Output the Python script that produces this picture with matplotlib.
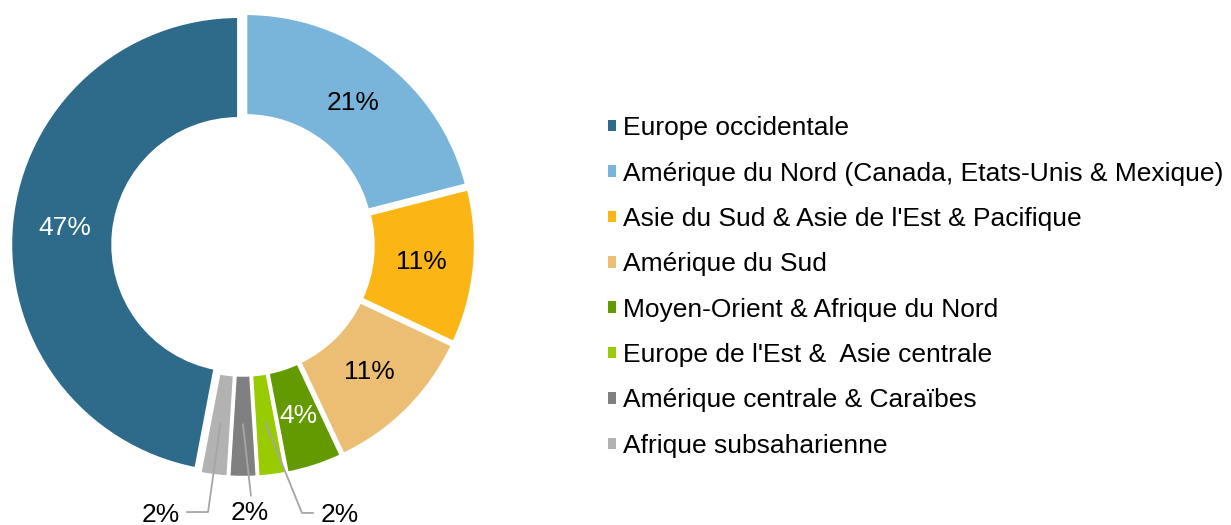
import matplotlib.pyplot as plt
import numpy as np
from matplotlib.patches import Patch

plt.rcParams["font.family"] = ["Liberation Sans", "DejaVu Sans"]

regions = [
    "Europe occidentale",
    "Amérique du Nord (Canada, Etats-Unis & Mexique)",
    "Asie du Sud & Asie de l'Est & Pacifique",
    "Amérique du Sud",
    "Moyen-Orient & Afrique du Nord",
    "Europe de l'Est &  Asie centrale",
    "Amérique centrale & Caraïbes",
    "Afrique subsaharienne",
]
shares = [47, 21, 11, 11, 4, 2, 2, 2]
colors = ["#2E6A8A", "#79B4DB", "#FBB515", "#EBBE74",
          "#639A00", "#99CC00", "#808080", "#B2B2B2"]
label_colors = ["white", "black", "black", "black", "white", None, None, None]

# small slices get outside labels with leader lines:
# (elbow, end of horizontal part, text position) in data units
outside = {
    7: ((-0.15, -1.146), (-0.24, -1.146), (-0.355, -1.16)),
    6: ((0.034, -1.075), (0.034, -1.075), (0.03, -1.15)),
    5: ((0.253, -1.15), (0.30, -1.15), (0.415, -1.16)),
}

fig = plt.figure(figsize=(12.31, 5.25), dpi=100)
ax = fig.add_axes([10 / 1231, 47 / 525, 466 / 1231, 466 / 525])

total = sum(shares)
start = 90 + shares[0] / total * 360
wedges, _ = ax.pie(
    shares,
    colors=colors,
    startangle=start,
    counterclock=False,
    radius=0.98,
    explode=[0.018] * len(shares),
    wedgeprops=dict(width=0.44, edgecolor="white", linewidth=2.5),
)
ax.set_xlim(-1, 1)
ax.set_ylim(-1, 1)
ax.set_aspect("equal")

r_mid = 0.77
for i, w in enumerate(wedges):
    ang = np.deg2rad((w.theta1 + w.theta2) / 2)
    x, y = r_mid * np.cos(ang), r_mid * np.sin(ang)
    txt = f"{shares[i]}%"
    if i in outside:
        elbow, end, tpos = outside[i]
        ax.plot([x, elbow[0], end[0]], [y, elbow[1], end[1]],
                color="#A6A6A6", lw=1.3, clip_on=False)
        ax.text(tpos[0], tpos[1], txt, ha="center", va="center",
                fontsize=19, color="black", clip_on=False)
    else:
        ax.text(x, y, txt, ha="center", va="center",
                fontsize=19, color=label_colors[i])

handles = [Patch(facecolor=c, edgecolor="none") for c in colors]
fig.legend(
    handles, regions,
    loc="center left",
    bbox_to_anchor=(584 / 1231, 1 - 287 / 525),
    frameon=False,
    fontsize=19,
    handlelength=0.3,
    handleheight=0.3,
    handletextpad=0.27,
    labelspacing=0.81,
)

fig.savefig("out.png", dpi=100)
